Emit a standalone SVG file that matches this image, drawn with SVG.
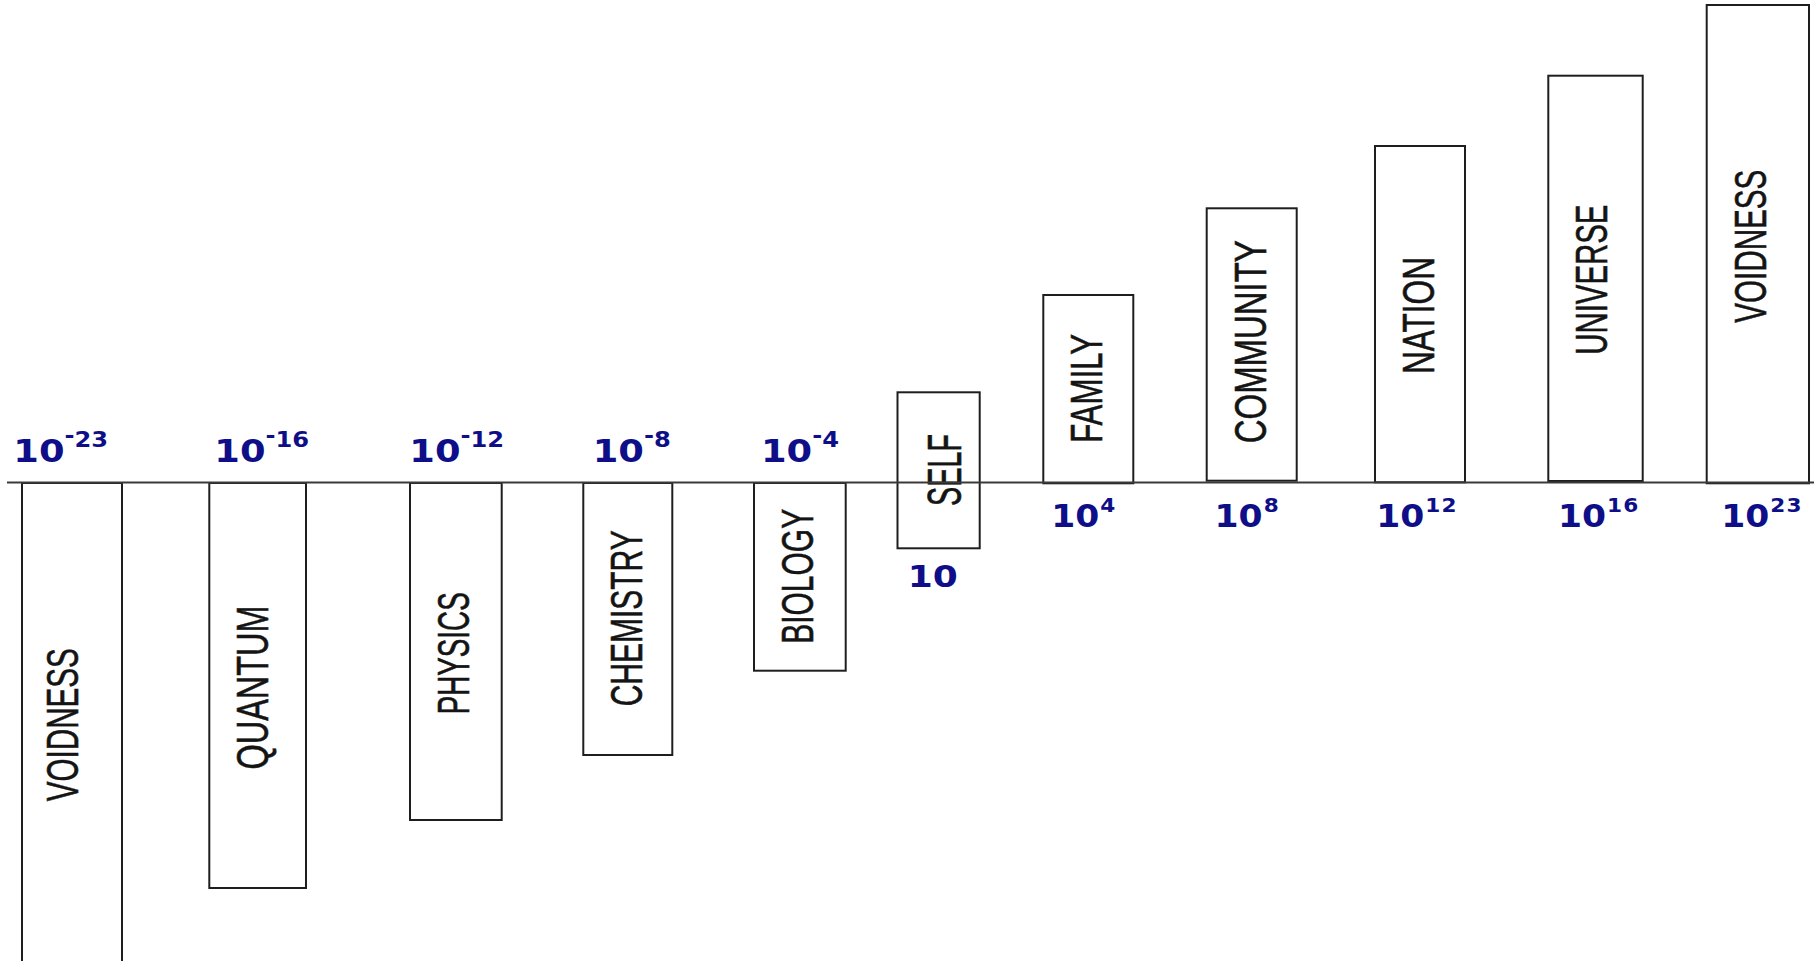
<svg xmlns="http://www.w3.org/2000/svg" width="1814" height="961" viewBox="0 0 1814 961">
<style>
.box{fill:#fff;stroke:#1e1e1e;stroke-width:2}
.lbl{font-family:"Liberation Sans",Arial,sans-serif;font-size:45px;fill:#141414;stroke:#141414;stroke-width:0.6;text-anchor:middle}
.num{font-family:"DejaVu Sans",Verdana,sans-serif;font-weight:bold;font-size:32px;fill:#0e0e88}
.su{font-size:21px}
.sl{font-size:20px;letter-spacing:1px}
.axis{stroke:#3a3a3a;stroke-width:2;fill:none}
</style>
<rect width="1814" height="961" fill="#fff"/>

<g id="n-voidness-low">
<rect class="box" x="22" y="483" width="100" height="490"/>
<text class="lbl" transform="translate(78.3,724.7) rotate(-90)" textLength="153" lengthAdjust="spacingAndGlyphs">VOIDNESS</text>
<text class="num" transform="translate(13.3,461.7) scale(1.15,1)">10<tspan class="su" dy="-19">-</tspan><tspan class="su" dy="4">23</tspan></text>
</g>

<g id="n-quantum">
<rect class="box" x="209.3" y="483" width="96.7" height="405"/>
<text class="lbl" transform="translate(268.3,687.5) rotate(-90)" textLength="164" lengthAdjust="spacingAndGlyphs">QUANTUM</text>
<text class="num" transform="translate(214.3,461.7) scale(1.15,1)">10<tspan class="su" dy="-19">-</tspan><tspan class="su" dy="4">16</tspan></text>
</g>

<g id="n-physics">
<rect class="box" x="410" y="483" width="91.7" height="337"/>
<text class="lbl" transform="translate(469.3,653.3) rotate(-90)" textLength="122" lengthAdjust="spacingAndGlyphs">PHYSICS</text>
<text class="num" transform="translate(409.3,461.7) scale(1.15,1)">10<tspan class="su" dy="-19">-</tspan><tspan class="su" dy="4">12</tspan></text>
</g>

<g id="n-chemistry">
<rect class="box" x="583.3" y="483" width="89" height="272"/>
<text class="lbl" transform="translate(641.7,618.3) rotate(-90)" textLength="176" lengthAdjust="spacingAndGlyphs">CHEMISTRY</text>
<text class="num" transform="translate(592.7,461.7) scale(1.15,1)">10<tspan class="su" dy="-19">-</tspan><tspan class="su" dy="4">8</tspan></text>
</g>

<g id="n-biology">
<rect class="box" x="754" y="483" width="91.7" height="187.7"/>
<text class="lbl" transform="translate(813.3,576.3) rotate(-90)" textLength="135" lengthAdjust="spacingAndGlyphs">BIOLOGY</text>
<text class="num" transform="translate(761,461.7) scale(1.15,1)">10<tspan class="su" dy="-19">-</tspan><tspan class="su" dy="4">4</tspan></text>
</g>

<g id="n-self">
<rect class="box" x="897.5" y="392.3" width="82.2" height="156"/>
<text class="lbl" style="font-size:49px" transform="translate(961,470) rotate(-90)" textLength="72" lengthAdjust="spacingAndGlyphs">SELF</text>
<text class="num" style="font-size:30px" transform="translate(907.7,586.7) scale(1.2,1)">10</text>
</g>

<g id="n-family">
<rect class="box" x="1043.3" y="295" width="90" height="188.3"/>
<text class="lbl" transform="translate(1102.3,388.3) rotate(-90)" textLength="109" lengthAdjust="spacingAndGlyphs">FAMILY</text>
<text class="num" transform="translate(1051.2,526.7) scale(1.08,1)">10<tspan class="sl" dx="1" dy="-15">4</tspan></text>
</g>

<g id="n-community">
<rect class="box" x="1206.7" y="208.3" width="90" height="272.4"/>
<text class="lbl" transform="translate(1265.7,341.7) rotate(-90)" textLength="203" lengthAdjust="spacingAndGlyphs">COMMUNITY</text>
<text class="num" transform="translate(1214.5,526.7) scale(1.08,1)">10<tspan class="sl" dx="1" dy="-15">8</tspan></text>
</g>

<g id="n-nation">
<rect class="box" x="1375" y="146" width="90" height="336.3"/>
<text class="lbl" transform="translate(1434,315.5) rotate(-90)" textLength="117" lengthAdjust="spacingAndGlyphs">NATION</text>
<text class="num" transform="translate(1376.2,526.7) scale(1.08,1)">10<tspan class="sl" dx="1" dy="-15">12</tspan></text>
</g>

<g id="n-universe">
<rect class="box" x="1548.3" y="75.7" width="94.4" height="405.3"/>
<text class="lbl" transform="translate(1607.3,279.7) rotate(-90)" textLength="150" lengthAdjust="spacingAndGlyphs">UNIVERSE</text>
<text class="num" transform="translate(1557.9,526.7) scale(1.08,1)">10<tspan class="sl" dx="1" dy="-15">16</tspan></text>
</g>

<g id="n-voidness-high">
<rect class="box" x="1706.7" y="5" width="102.3" height="478.3"/>
<text class="lbl" transform="translate(1766,246.2) rotate(-90)" textLength="153" lengthAdjust="spacingAndGlyphs">VOIDNESS</text>
<text class="num" transform="translate(1721.2,526.7) scale(1.08,1)">10<tspan class="sl" dx="1" dy="-15">23</tspan></text>
</g>

<g id="axis">
<line class="axis" x1="7" y1="482.5" x2="1814" y2="482.5"/>
</g>
</svg>
